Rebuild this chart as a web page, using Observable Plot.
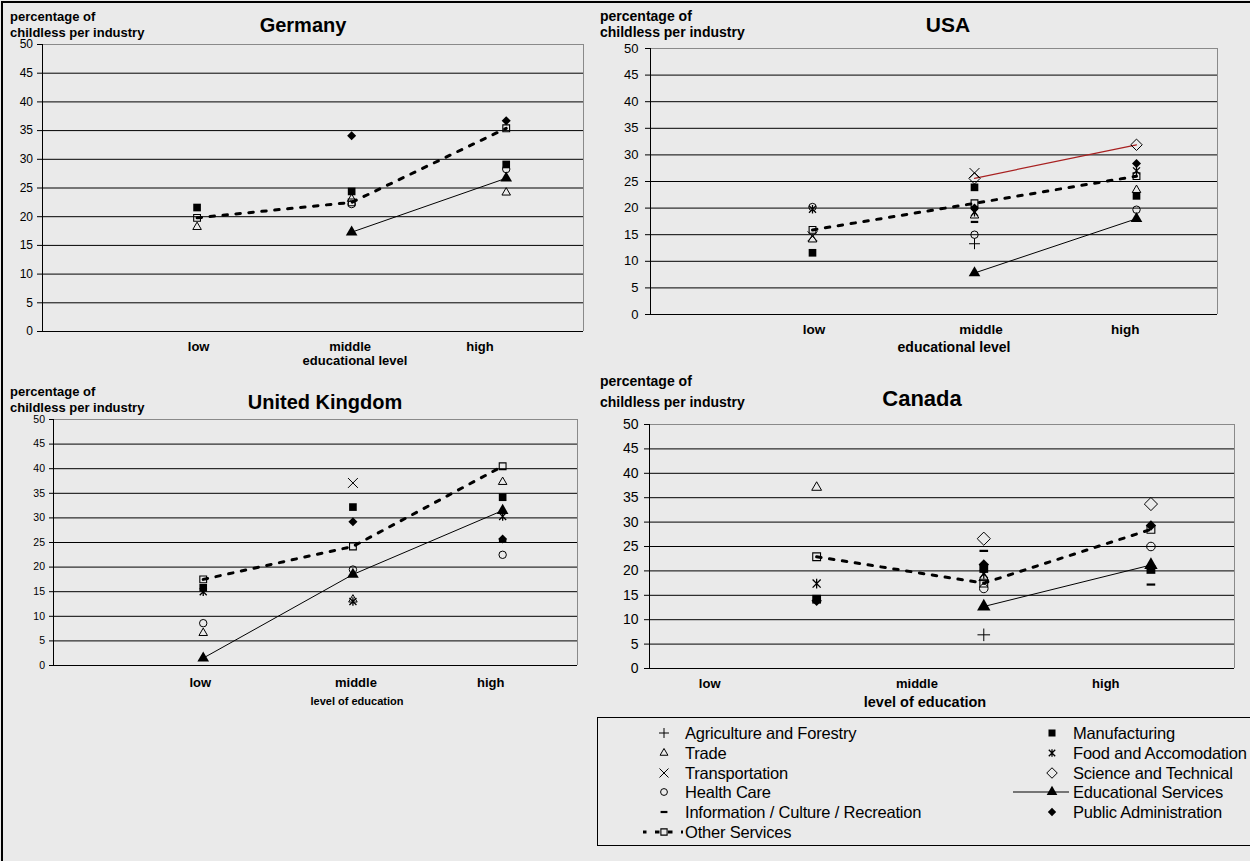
<!DOCTYPE html>
<html><head><meta charset="utf-8">
<script src="https://cdn.jsdelivr.net/npm/d3@7"></script>
<script src="https://cdn.jsdelivr.net/npm/@observablehq/plot@0.6"></script>
<style>
body{margin:0;background:#eaeaea;}
#page{position:relative;width:1250px;height:861px;background:#eaeaea;overflow:hidden;font-family:"Liberation Sans",Arial,sans-serif;color:#000;}
.t{position:absolute;white-space:nowrap;line-height:1;}
.c{transform:translate(-50%,-50%);}
.l{transform:translateY(-50%);}
.panel{position:absolute;}
.panel svg{overflow:visible;}
</style></head><body><div id="page"></div><script>
// ---------- data ----------
const levels = ["low", "middle", "high"];
const industries = ["Agriculture and Forestry", "Manufacturing", "Trade", "Food and Accomodation",
  "Transportation", "Science and Technical", "Health Care", "Educational Services",
  "Information / Culture / Recreation", "Public Administration", "Other Services"];
const yTicks = [0, 5, 10, 15, 20, 25, 30, 35, 40, 45, 50];

// [industry, low, middle, high]  (null = no point)
const germanyValues = [
  ["Manufacturing", 21.6, 24.4, 29.1],
  ["Trade", 18.2, 23.1, 24.2],
  ["Health Care", null, 22.2, 28.3],
  ["Educational Services", null, 17.3, 26.7],
  ["Public Administration", null, 34.1, 36.7],
  ["Other Services", 19.8, 22.5, 35.4]
];
const usaValues = [
  ["Agriculture and Forestry", null, 13.3, null],
  ["Manufacturing", 11.6, 23.9, 22.3],
  ["Trade", 14.1, 18.6, 23.4],
  ["Food and Accomodation", 19.8, 19.2, 27.0],
  ["Transportation", 14.7, 26.6, null],
  ["Science and Technical", null, 25.6, 31.9],
  ["Health Care", 20.2, 15.0, 19.7],
  ["Educational Services", null, 7.8, 18.0],
  ["Information / Culture / Recreation", null, 17.4, null],
  ["Public Administration", null, 20.0, 28.4],
  ["Other Services", 15.9, 20.9, 26.0]
];
const ukValues = [
  ["Manufacturing", 15.8, 32.2, 34.2],
  ["Trade", 6.6, 13.4, 37.3],
  ["Food and Accomodation", 15.0, 13.0, 30.3],
  ["Transportation", null, 37.1, null],
  ["Health Care", 8.6, 19.5, 22.5],
  ["Educational Services", 1.5, 18.5, 31.5],
  ["Information / Culture / Recreation", null, null, 25.3],
  ["Public Administration", null, 29.2, 25.7],
  ["Other Services", 17.5, 24.2, 40.5]
];
const canadaValues = [
  ["Agriculture and Forestry", null, 6.9, null],
  ["Manufacturing", 14.2, 20.5, 20.3],
  ["Trade", 37.1, 18.6, null],
  ["Food and Accomodation", 17.4, 19.4, null],
  ["Science and Technical", null, 26.6, 33.7],
  ["Health Care", null, 16.4, 25.0],
  ["Educational Services", null, 12.7, 21.2],
  ["Information / Culture / Recreation", null, 24.1, 17.2],
  ["Public Administration", 13.9, 21.3, 29.3],
  ["Other Services", 22.9, 17.5, 28.5]
];
// positions of the category labels on each x axis (category index units)
const germanyTickPos = [1.01, 1.99, 2.83];
const usaTickPos = [1.01, 2.04, 2.93];
const ukTickPos = [0.98, 2.02, 2.92];
const canadaTickPos = [0.36, 1.6, 2.73];

// ---------- styles ----------
const excelAsterisk = {draw(ctx, size) {
  const r = Math.sqrt(size) * 0.5;
  ctx.moveTo(-r, -r); ctx.lineTo(r, r);
  ctx.moveTo(-r, r); ctx.lineTo(r, -r);
  ctx.moveTo(0, -r * 1.2); ctx.lineTo(0, r * 1.2);
}};
const dashSymbol = {draw(ctx, size) {
  const r = Math.sqrt(size) * 0.55;
  ctx.moveTo(-r, 0); ctx.lineTo(r, 0);
}};
const industryStyle = {
  "Agriculture and Forestry": {symbol: d3.symbolPlus, fill: "none", stroke: "#000", r: 3.0, sw: 1},
  "Manufacturing": {symbol: d3.symbolSquare, fill: "#000", stroke: "none", r: 3.6, sw: 0},
  "Trade": {symbol: d3.symbolTriangle2, fill: "none", stroke: "#000", r: 3.4, sw: 1},
  "Food and Accomodation": {symbol: excelAsterisk, fill: "none", stroke: "#000", r: 3.3, sw: 1.3},
  "Transportation": {symbol: d3.symbolTimes, fill: "none", stroke: "#000", r: 3.8, sw: 1},
  "Science and Technical": {symbol: d3.symbolDiamond2, fill: "none", stroke: "#000", r: 4.3, sw: 1},
  "Health Care": {symbol: d3.symbolCircle, fill: "none", stroke: "#000", r: 3.1, sw: 1},
  "Educational Services": {symbol: d3.symbolTriangle, fill: "#000", stroke: "none", r: 3.6, sw: 0},
  "Information / Culture / Recreation": {symbol: dashSymbol, fill: "none", stroke: "#000", r: 3.2, sw: 2.2},
  "Public Administration": {symbol: d3.symbolDiamond2, fill: "#000", stroke: "none", r: 3.4, sw: 0},
  "Other Services": {symbol: d3.symbolSquare2, fill: "none", stroke: "#000", r: 3.6, sw: 1.1}
};

const page = document.getElementById("page");
function addText(txt, x, y, size, weight, center) {
  const d = document.createElement("div");
  d.className = "t " + (center ? "c" : "l");
  d.textContent = txt;
  d.style.left = x + "px"; d.style.top = y + "px";
  d.style.fontSize = size + "px"; d.style.fontWeight = weight;
  page.appendChild(d);
  return d;
}

function tidy(rows) {
  const out = [];
  for (const [industry, ...vals] of rows)
    vals.forEach((v, i) => { if (v != null) out.push({industry, level: levels[i], pos: i + 1, value: v}); });
  return out;
}

const otherDash = "4.5,8.5";

function panel(cfg) {
  const data = tidy(cfg.rows);
  const marks = [
    Plot.gridY(yTicks.filter(t => t > 0 && t < 50), {stroke: "#000", strokeOpacity: 1}),
    Plot.ruleY([50], {stroke: "#8a8a8a"}),
    Plot.ruleX([3.5], {stroke: "#8a8a8a"}),
    Plot.ruleX([0], {stroke: "#000"}),
    Plot.ruleY([0], {stroke: "#000"}),
    Plot.axisY({ticks: yTicks, tickSize: cfg.yTickSize, tickPadding: cfg.yPad, fontSize: cfg.yFont, label: null}),
    Plot.axisX({ticks: cfg.tickPos, tickFormat: d => levels[cfg.tickPos.indexOf(d)], tickSize: 0,
      tickPadding: cfg.xPad, fontSize: cfg.xFont, fontWeight: "bold", label: null})
  ];
  // lines
  marks.push(Plot.line(data.filter(d => d.industry === "Educational Services"),
    {x: "pos", y: "value", stroke: "#000", strokeWidth: 1}));
  if (cfg.scienceLine) marks.push(Plot.line(data.filter(d => d.industry === "Science and Technical"),
    {x: "pos", y: "value", stroke: "#a82020", strokeWidth: 1.2}));
  marks.push(Plot.line(data.filter(d => d.industry === "Other Services"),
    {x: "pos", y: "value", stroke: "#000", strokeWidth: 3, strokeDasharray: otherDash}));
  // markers, in series order
  for (const ind of industries) {
    const s = industryStyle[ind];
    const sub = data.filter(d => d.industry === ind);
    if (!sub.length) continue;
    marks.push(Plot.dot(sub, {x: "pos", y: "value", symbol: s.symbol, r: s.r * cfg.mscale,
      fill: s.fill, stroke: s.stroke, strokeWidth: s.sw}));
  }
  const chart = Plot.plot({
    width: cfg.width, height: cfg.height,
    marginTop: cfg.m[0], marginRight: cfg.m[1], marginBottom: cfg.m[2], marginLeft: cfg.m[3],
    x: {domain: [0, 3.5]}, y: {domain: [0, 50]},
    style: {background: "transparent", fontFamily: "'Liberation Sans', Arial, sans-serif", color: "#000", overflow: "visible"},
    marks
  });
  const wrap = document.createElement("div");
  wrap.className = "panel";
  wrap.style.left = cfg.left + "px"; wrap.style.top = cfg.top + "px";
  wrap.appendChild(chart);
  page.appendChild(wrap);
}

panel({rows: germanyValues, tickPos: germanyTickPos, left: 0, top: 0, width: 600, height: 370,
  m: [44, 17, 39, 42], yTickSize: 5, yPad: 4.5, yFont: 12, xPad: 10, xFont: 13, mscale: 1.2});
panel({rows: usaValues, tickPos: usaTickPos, left: 600, top: 0, width: 650, height: 360,
  m: [48, 33, 46, 50], yTickSize: 5, yPad: 7, yFont: 13, xPad: 10, xFont: 13.5, mscale: 1.2, scienceLine: true});
panel({rows: ukValues, tickPos: ukTickPos, left: 0, top: 370, width: 600, height: 340,
  m: [49, 23, 45, 53], yTickSize: 4, yPad: 4.5, yFont: 10.5, xPad: 12, xFont: 13, mscale: 1.2});
panel({rows: canadaValues, tickPos: canadaTickPos, left: 600, top: 360, width: 650, height: 350,
  m: [64, 16, 42, 49], yTickSize: 5, yPad: 6, yFont: 14, xPad: 10, xFont: 13, mscale: 1.38});

// ---------- texts ----------
addText("percentage of", 10, 16, 13, "bold");
addText("childless per industry", 10, 32, 13, "bold");
addText("Germany", 303, 25, 20, "bold", true);
addText("educational level", 355, 360, 13, "bold", true);

addText("percentage of", 600, 16, 14, "bold");
addText("childless per industry", 600, 32, 14, "bold");
addText("USA", 948, 24, 21, "bold", true);
addText("educational level", 954, 347, 14, "bold", true);

addText("percentage of", 10, 391, 13, "bold");
addText("childless per industry", 10, 407, 13, "bold");
addText("United Kingdom", 325, 402, 20, "bold", true);
addText("level of education", 357, 701, 11, "bold", true);

addText("percentage of", 600, 381, 14, "bold");
addText("childless per industry", 600, 402, 14, "bold");
addText("Canada", 922, 399, 22, "bold", true);
addText("level of education", 925, 702, 14.5, "bold", true);

// ---------- outer border ----------
const border = document.createElement("div");
border.style.cssText = "position:absolute;left:1px;top:1px;width:1300px;height:900px;border-top:2px solid #000;border-left:2px solid #000;";
page.appendChild(border);

// ---------- legend ----------
const box = document.createElement("div");
box.style.cssText = "position:absolute;left:597px;top:717px;width:720px;height:127px;border:1px solid #000;";
page.appendChild(box);
industries.forEach((ind, i) => {
  const col = i % 2, row = Math.floor(i / 2);
  const cy = 733 + row * 19.8;
  const sx = col === 0 ? 664 : 1052;
  const tx = col === 0 ? 685 : 1073;
  const s = industryStyle[ind];
  const svg = d3.create("svg").attr("width", 60).attr("height", 20)
    .style("position", "absolute").style("left", (sx - 30) + "px").style("top", (cy - 10) + "px")
    .style("overflow", "visible");
  if (ind === "Educational Services")
    svg.append("line").attr("x1", -9).attr("x2", 47).attr("y1", 10).attr("y2", 10).attr("stroke", "#000");
  if (ind === "Other Services")
    svg.append("line").attr("x1", 9).attr("x2", 49).attr("y1", 10).attr("y2", 10)
      .attr("stroke", "#000").attr("stroke-width", 3).attr("stroke-dasharray", "4.5,8.5").attr("stroke-dashoffset", 1);
  const r = s.r * 1.1;
  svg.append("path").attr("transform", "translate(30,10)")
    .attr("d", d3.symbol(s.symbol, Math.PI * r * r)())
    .attr("fill", s.fill).attr("stroke", s.stroke).attr("stroke-width", s.sw);
  page.appendChild(svg.node());
  const t = addText(ind, tx, cy, 16.5, "normal");
  t.style.letterSpacing = "-0.2px";
});
</script></body></html>
